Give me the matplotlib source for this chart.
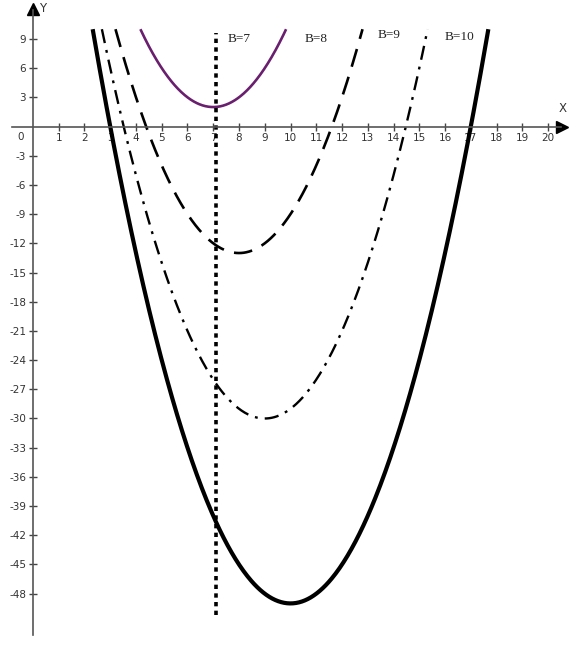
import numpy as np
import matplotlib
matplotlib.use("Agg")
import matplotlib.pyplot as plt

# Parabolas y = (x - vx)^2 + vy (B = 7..10)
labels = ["B=7", "B=8", "B=9", "B=10"]
vertex_x = [7, 8, 9, 10]
vertex_y = [2, -13, -30, -49]
label_pos_x = [7.55, 10.55, 13.4, 16.0]
label_pos_y = [9.0, 9.0, 9.4, 9.2]
y_clip = 10.0
guide_x = 7.1
guide_y = [-50.2, 9.6]

x_ticks = list(range(1, 21))
y_ticks = [9, 6, 3] + list(range(-3, -49, -3))

styles = [
    dict(color="#6a1f6e", lw=1.9, ls="-"),
    dict(color="black", lw=1.9, ls=(0, (7, 4))),
    dict(color="black", lw=1.7, ls=(0, (6, 3, 1.2, 3))),
    dict(color="black", lw=3.0, ls="-"),
]

fig = plt.figure(figsize=(5.8, 6.55), dpi=100)
ax = fig.add_axes([0, 0, 1, 1])
ax.set_xlim(-1.28, 21.24)
ax.set_ylim(-54.3, 13.0)

for vx, vy, st in zip(vertex_x, vertex_y, styles):
    half = np.sqrt(y_clip - vy)
    xs = np.linspace(vx - half, vx + half, 400)
    ys = (xs - vx) ** 2 + vy
    ax.plot(xs, ys, solid_capstyle="butt", dash_capstyle="butt", **st)

for lab, lx, ly in zip(labels, label_pos_x, label_pos_y):
    ax.text(lx, ly, lab, fontsize=9.5, family="Liberation Serif", color="#222222",
            ha="left", va="center")

ax.plot([guide_x, guide_x], guide_y, color="black", lw=2.6, ls=(0, (1.2, 1.2)))

# axes through origin
for s in ["top", "right"]:
    ax.spines[s].set_visible(False)
ax.spines["left"].set_position(("data", 0))
ax.spines["bottom"].set_position(("data", 0))
ax.spines["left"].set_bounds(-52.2, 12.0)
ax.spines["bottom"].set_bounds(-0.8, 20.5)
for s in ["left", "bottom"]:
    ax.spines[s].set_color("#555555")
    ax.spines[s].set_linewidth(1.2)

ax.set_xticks(x_ticks)
ax.set_yticks(y_ticks)
ax.set_xticklabels([str(t) for t in x_ticks])
ax.set_yticklabels([str(t) for t in y_ticks])
ax.tick_params(direction="inout", length=6, width=1.0, color="#444444",
               labelsize=7.5, labelcolor="#333333", pad=2)

ax.plot([20.55], [0], marker=">", color="black", ms=8, clip_on=False)
ax.plot([0], [12.1], marker="^", color="black", ms=8, clip_on=False)
ax.text(20.55, 1.2, "X", fontsize=8.5, color="#333333", ha="center", va="bottom")
ax.text(0.25, 12.1, "Y", fontsize=8.5, color="#333333", ha="left", va="center")
ax.text(-0.35, -0.6, "0", fontsize=7.5, color="#333333", ha="right", va="top")

fig.savefig("out.png", dpi=100)
